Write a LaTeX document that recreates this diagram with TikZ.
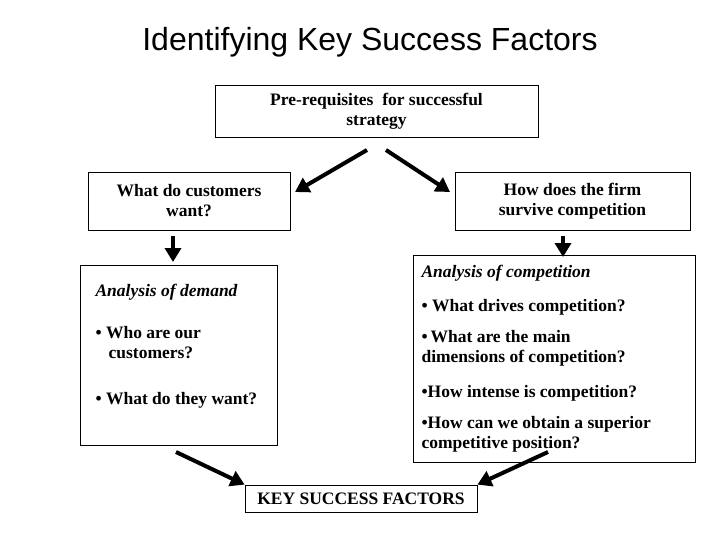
\documentclass[tikz,border=0pt]{standalone}
\usepackage{fontspec}
\setmainfont{Liberation Serif}
\newfontfamily\titlefont{Liberation Sans}
\usetikzlibrary{arrows.meta}
\begin{document}
\begin{tikzpicture}[x=1pt,y=-1pt,
  bx/.style={draw,line width=0.8pt,font=\bfseries\fontsize{17.5}{20}\selectfont},
  ar/.style={line width=4pt,-{Triangle[length=14pt,width=16pt]}}]
\useasboundingbox (0,0) rectangle (720,540);
\node[font=\titlefont\fontsize{32}{36}\selectfont] (title) at (370,42) {Identifying Key Success Factors};
\node[bx,minimum width=323pt,minimum height=52pt,align=center] (pre) at (376.5,111) {Pre-requisites\ \ for successful\\strategy};
\node[bx,minimum width=202pt,minimum height=58pt,align=center] (cust) at (189,201) {What do customers\\want?};
\node[bx,minimum width=235pt,minimum height=58pt,align=center] (firm) at (572.5,201) {How does the firm\\survive competition};
\node[bx,minimum width=197pt,minimum height=180pt] (dem) at (178.5,355) {};
\node[bx,minimum width=282pt,minimum height=207pt] (comp) at (554,358.5) {};
\node[bx,minimum width=232pt,minimum height=27pt] (ksf) at (361,498.5) {KEY SUCCESS FACTORS};
\begin{scope}[font=\bfseries\fontsize{17.5}{20}\selectfont,anchor=west,align=left]
\node (d1) at (92,292) {\itshape Analysis of demand};
\node (d2) at (92,343) {• Who are our\\\ \ \ customers?};
\node (d3) at (92,400) {• What do they want?};
\node (c1) at (418,273) {\itshape Analysis of competition};
\node (c2) at (418,307) {• What drives competition?};
\node (c3) at (418,348) {•\,What are the main\\dimensions of competition?};
\node (c4) at (418,393) {•How intense is competition?};
\node (c5) at (418,434) {•How can we obtain a superior\\competitive position?};
\end{scope}
\coordinate (a1) at (367,150); \coordinate (a2) at (386,150);
\coordinate (t1) at (295,192); \coordinate (t2) at (450,192);
\coordinate (s1) at (173,236); \coordinate (e1) at (173,262);
\coordinate (s2) at (563,236); \coordinate (e2) at (563,257);
\coordinate (b1) at (176,452); \coordinate (b2) at (548,452);
\draw[ar] (a1) -- (t1);
\draw[ar] (a2) -- (t2);
\draw[ar] (s1) -- (e1);
\draw[ar] (s2) -- (e2);
\draw[ar] (b1) -- (ksf.north west);
\draw[ar] (b2) -- (ksf.north east);
\end{tikzpicture}
\end{document}
